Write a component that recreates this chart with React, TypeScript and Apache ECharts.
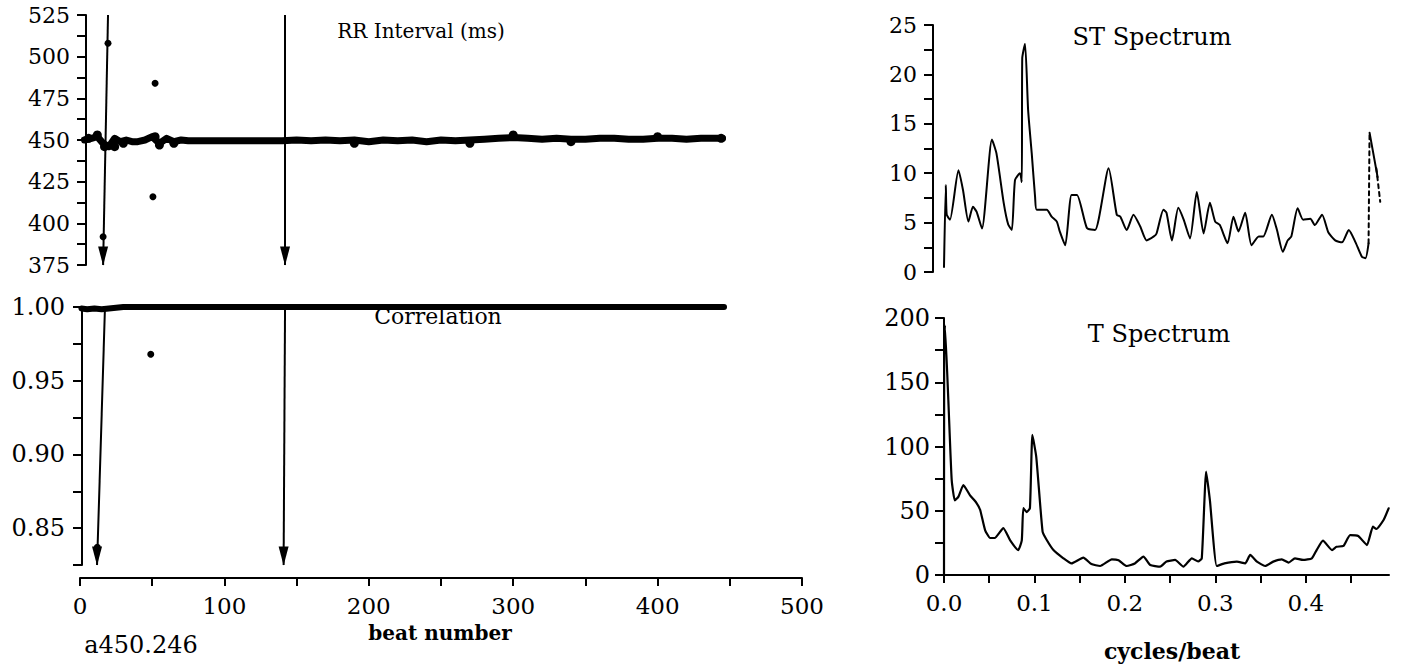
import React, { useEffect, useRef } from "react";
import * as echarts from "echarts";

const FONT = '"DejaVu Serif", serif';

// ---------- RR interval panel (beat number vs ms) ----------
const rrBeat = [3, 8, 12, 16, 20, 24, 28, 32, 36, 40, 45, 50, 55, 60, 65, 70, 75, 80, 90, 100, 110, 120, 130, 140, 150, 160, 170, 180, 190, 200, 210, 220, 230, 240, 250, 260, 270, 280, 290, 300, 310, 320, 330, 340, 350, 360, 370, 380, 390, 400, 410, 420, 430, 440, 445];
const rrValue = [450, 451, 452, 448, 446, 451, 449, 450, 449, 449, 450, 452, 448, 451, 449, 450, 449.5, 449.5, 449.5, 449.5, 449.5, 449.5, 449.5, 449.5, 450, 449.5, 450, 449.5, 450, 449, 450, 449.5, 450, 449, 450, 449.5, 450, 450.5, 451, 451.5, 451, 450.5, 451, 450.5, 450.5, 451, 451, 450.5, 450.5, 451, 451, 450.5, 451, 451, 451];
const rrBlobs = [[6, 451], [12, 453], [17, 446], [24, 446], [30, 448], [52, 452], [55, 447], [65, 448], [190, 448], [270, 448], [300, 453], [340, 449], [400, 452], [444, 451]];
const rrOutliers = [[19.4, 508], [52, 484], [50.5, 416], [16, 392]];
const rrArrows = [[19.4, 525, 16, 375], [142, 525, 142, 375]];
const rrTicks = [375, 387.5, 400, 412.5, 425, 437.5, 450, 462.5, 475, 487.5, 500, 512.5, 525];
const rrLabels = [375, 400, 425, 450, 475, 500, 525];

// ---------- Correlation panel ----------
const corrBeat = [1, 5, 10, 15, 20, 25, 30, 50, 100, 150, 200, 250, 300, 350, 400, 446];
const corrValue = [0.999, 0.9985, 0.999, 0.9985, 0.999, 0.9995, 1.0, 1.0, 1.0, 1.0, 1.0, 1.0, 1.0, 1.0, 1.0, 1.0];
const corrOutliers = [[49, 0.968], [12, 0.837]];
const corrArrows = [[17.3, 1.0, 11.8, 0.825], [142, 1.0, 141, 0.825]];
const corrTicks = [0.825, 0.85, 0.875, 0.9, 0.925, 0.95, 0.975, 1.0];
const corrLabels = [0.85, 0.9, 0.95, 1.0];

const beatTicks = [0, 50, 100, 150, 200, 250, 300, 350, 400, 450, 500];
const beatLabels = [0, 100, 200, 300, 400, 500];

// ---------- ST spectrum ----------
const stFreq = [0, 0.002, 0.003, 0.0066, 0.016, 0.021, 0.027, 0.032, 0.036, 0.042, 0.053, 0.058, 0.066, 0.071, 0.075, 0.0785, 0.084, 0.086, 0.0865, 0.0896, 0.093, 0.097, 0.1007, 0.1025, 0.1136, 0.119, 0.1247, 0.128, 0.134, 0.141, 0.147, 0.158, 0.167, 0.182, 0.191, 0.195, 0.202, 0.2095, 0.217, 0.224, 0.232, 0.235, 0.2426, 0.246, 0.252, 0.259, 0.265, 0.272, 0.2795, 0.287, 0.294, 0.2998, 0.305, 0.3135, 0.32, 0.3256, 0.333, 0.34, 0.348, 0.353, 0.3625, 0.368, 0.3746, 0.38, 0.384, 0.391, 0.397, 0.405, 0.41, 0.418, 0.425, 0.4325, 0.44, 0.4475, 0.455, 0.462, 0.466, 0.4694];
const stValue = [0.5, 8.8, 5.8, 5.3, 10.3, 8.3, 5.1, 6.6, 6.1, 4.4, 13.4, 12.0, 7.0, 4.8, 4.25, 9.3, 10.0, 9.1, 21.6, 23.1, 16.4, 12.0, 7.6, 6.3, 6.3, 5.6, 5.1, 4.1, 2.7, 7.8, 7.8, 4.45, 4.25, 10.5, 5.8, 5.6, 4.25, 5.8, 4.6, 3.2, 3.6, 3.9, 6.3, 6.0, 3.2, 6.5, 5.3, 3.4, 8.1, 3.9, 7.0, 5.1, 4.75, 2.9, 5.6, 4.1, 6.0, 2.7, 3.6, 3.6, 5.8, 4.3, 2.05, 3.2, 3.6, 6.45, 5.3, 5.4, 4.75, 5.8, 4.0, 3.2, 3.0, 4.25, 3.0, 1.55, 1.4, 2.9];
const stDashA = [[0.4694, 2.9], [0.4705, 14.1]];
const stSolidB = [[0.4705, 14.1], [0.4794, 9.6]];
const stDashC = [[0.478, 10.5], [0.4823, 7.1]];
const stTicks = [0, 2.5, 5, 7.5, 10, 12.5, 15, 17.5, 20, 22.5, 25];
const stLabels = [0, 5, 10, 15, 20, 25];

// ---------- T spectrum ----------
const tFreq = [0, 0.0002, 0.001, 0.0048, 0.0085, 0.012, 0.016, 0.0214, 0.0288, 0.036, 0.04, 0.0454, 0.051, 0.056, 0.0656, 0.073, 0.082, 0.086, 0.0877, 0.0915, 0.095, 0.0977, 0.102, 0.109, 0.1136, 0.121, 0.132, 0.141, 0.154, 0.163, 0.1726, 0.1855, 0.193, 0.202, 0.211, 0.2205, 0.228, 0.239, 0.246, 0.2555, 0.2647, 0.274, 0.281, 0.285, 0.2898, 0.294, 0.3016, 0.31, 0.3238, 0.333, 0.3385, 0.346, 0.355, 0.364, 0.3735, 0.381, 0.388, 0.397, 0.4067, 0.412, 0.419, 0.429, 0.434, 0.4417, 0.449, 0.458, 0.4676, 0.4742, 0.478, 0.486, 0.4916];
const tValue = [0, 175, 194.5, 136, 74, 58, 61, 70, 62, 56, 50.6, 35, 28.8, 28.8, 36.5, 27.2, 19.4, 27, 52, 49, 52, 109, 92, 33.7, 27.2, 19.4, 13, 9, 13.5, 8.5, 7, 12.2, 11.5, 7, 9, 14.3, 7.8, 6.5, 10.5, 11.7, 6.5, 13, 10.5, 13, 80.4, 58, 7, 9, 10.4, 9, 15.6, 10.4, 7, 10.4, 12.2, 9.6, 13, 11.7, 13, 19.4, 26.7, 19.4, 22, 22.6, 31, 30.3, 23.3, 37.6, 35.8, 42.8, 51.9];
const tTicks = [0, 25, 50, 75, 100, 125, 150, 175, 200];
const tLabels = [0, 50, 100, 150, 200];

const freqTicks = [0, 0.05, 0.1, 0.15, 0.2, 0.25, 0.3, 0.35, 0.4, 0.45];
const freqLabels = [0, 0.1, 0.2, 0.3, 0.4];

const zip = (xs: number[], ys: number[]) => xs.map((x, i) => [x, ys[i]]);

const BLACK = "#000";
const lineAxis = { show: true, onZero: false, lineStyle: { color: BLACK, width: 2 } };
const ARROW = "path://M0,0 L10,0 L5,20 Z";

function yAxis(gridIndex: number, min: number, max: number, ticks: number[], labels: number[], offset: number, margin: number, fontSize: number, fmt: (v: number) => string) {
  return {
    type: "value", gridIndex, min, max, offset, position: "left",
    axisLine: lineAxis,
    splitLine: { show: false },
    axisTick: { show: true, inside: false, length: 9, lineStyle: { color: BLACK, width: 2 }, customValues: ticks },
    axisLabel: { show: true, customValues: labels, formatter: fmt, color: BLACK, fontFamily: FONT, fontSize, margin },
  };
}

function xAxis(gridIndex: number, min: number, max: number, show: boolean, ticks?: number[], labels?: number[], offset = 0, fmt?: (v: number) => string) {
  if (!show) return { type: "value", gridIndex, min, max, show: false };
  return {
    type: "value", gridIndex, min, max, offset, position: "bottom",
    axisLine: lineAxis,
    splitLine: { show: false },
    axisTick: { show: true, inside: false, length: 8, lineStyle: { color: BLACK, width: 2 }, customValues: ticks },
    axisLabel: { show: true, customValues: labels, formatter: fmt, color: BLACK, fontFamily: FONT, fontSize: 23, margin: 16 },
  };
}

function arrowMark(arrows: number[][]) {
  return {
    silent: true,
    symbol: ["none", "none"],
    label: { show: false },
    lineStyle: { color: BLACK, width: 2, type: "solid" },
    emphasis: { disabled: true },
    data: arrows.map((a) => [{ coord: [a[0], a[1]] }, { coord: [a[2], a[3]] }]),
  };
}

const lineSeries = (x: number, y: number, data: number[][], width: number, dashed = false, smooth = 0) => ({
  type: "line", xAxisIndex: x, yAxisIndex: y, data, showSymbol: false, silent: true, smooth,
  lineStyle: { color: BLACK, width, type: dashed ? [4, 4] : "solid", cap: "round", join: "round" },
});

const dotSeries = (x: number, y: number, data: number[][], size: number, mark?: any) => ({
  type: "scatter", xAxisIndex: x, yAxisIndex: y, data, symbolSize: size, silent: true,
  itemStyle: { color: BLACK, opacity: 1 }, markLine: mark,
});

const arrowHeads = (x: number, y: number, arrows: number[][]) => ({
  type: "scatter", xAxisIndex: x, yAxisIndex: y, silent: true, clip: false,
  data: arrows.map((a) => [a[2], a[3]]),
  symbol: ARROW, symbolSize: [10, 19], symbolOffset: [0, -9],
  itemStyle: { color: BLACK, opacity: 1 },
});

const text = (t: string, x: number, y: number, size: number, weight = "normal") => ({
  type: "text", x, y, silent: true,
  style: { text: t, fill: BLACK, font: `${weight} ${size}px ${FONT}`, align: "center", verticalAlign: "middle" },
});

export default function App() {
  const ref = useRef<HTMLDivElement>(null);
  useEffect(() => {
    if (!ref.current) return;
    const chart = echarts.init(ref.current, undefined, { renderer: "svg" });
    chart.setOption({
      animation: false,
      backgroundColor: "#fff",
      textStyle: { fontFamily: FONT },
      grid: [
        { left: 80, top: 15, width: 722, height: 250 },
        { left: 80, top: 307, width: 722, height: 258 },
        { left: 944, top: 25, width: 445, height: 247 },
        { left: 944, top: 318, width: 445, height: 257 },
      ],
      xAxis: [
        xAxis(0, 0, 500, false),
        xAxis(1, 0, 500, true, beatTicks, beatLabels, 13, (v: number) => String(v)),
        xAxis(2, 0, 0.492, false),
        xAxis(3, 0, 0.492, true, freqTicks, freqLabels, 0, (v: number) => v.toFixed(1)),
      ],
      yAxis: [
        yAxis(0, 375, 525, rrTicks, rrLabels, -6, 16, 22, (v: number) => String(v)),
        yAxis(1, 0.825, 1.0, corrTicks, corrLabels, -2, 17, 24, (v: number) => v.toFixed(2)),
        yAxis(2, 0, 25, stTicks, stLabels, 11, 16, 22, (v: number) => String(v)),
        yAxis(3, 0, 200, tTicks, tLabels, 0, 14, 24, (v: number) => String(v)),
      ],
      series: [
        lineSeries(0, 0, zip(rrBeat, rrValue), 7),
        dotSeries(0, 0, rrBlobs, 9),
        dotSeries(0, 0, rrOutliers, 7, arrowMark(rrArrows)),
        arrowHeads(0, 0, rrArrows),
        lineSeries(1, 1, zip(corrBeat, corrValue), 6),
        dotSeries(1, 1, corrOutliers, 7, arrowMark(corrArrows)),
        arrowHeads(1, 1, corrArrows),
        lineSeries(2, 2, zip(stFreq, stValue), 2, false, 0.2),
        lineSeries(2, 2, stDashA, 2, true),
        lineSeries(2, 2, stSolidB, 2),
        lineSeries(2, 2, stDashC, 2, true),
        lineSeries(3, 3, zip(tFreq, tValue), 2.2, false, 0.15),
      ],
      graphic: [
        text("RR Interval (ms)", 421, 31, 20),
        text("Correlation", 438, 316, 22),
        text("ST Spectrum", 1152, 37, 24),
        text("T Spectrum", 1159, 334, 24),
        text("beat number", 440, 633, 20, "bold"),
        text("a450.246", 141, 645, 24),
        text("cycles/beat", 1172, 651, 22, "bold"),
      ],
    });
    return () => chart.dispose();
  }, []);
  return <div ref={ref} style={{ position: "absolute", left: 0, top: 0, width: 1403, height: 671 }} />;
}
